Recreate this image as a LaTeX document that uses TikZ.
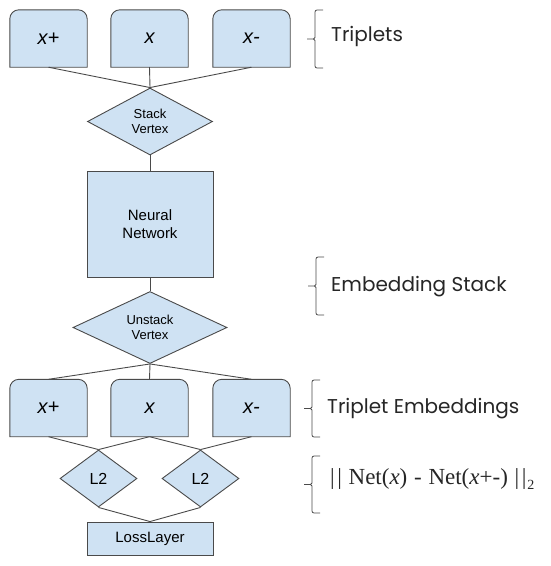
\documentclass[tikz,border=0pt]{standalone}
\usepackage{fontspec}
\setmainfont{Liberation Sans}
\newfontfamily\bracefont{Poppins}
\newfontfamily\formulafont{Liberation Serif}
\usetikzlibrary{shapes.geometric,backgrounds}
\definecolor{boxfill}{HTML}{CFE2F3}
\definecolor{edgecol}{HTML}{4A4A4A}
\newcommand\topbox[1]{\draw[boxline] (#1.south west) -- ([yshift=-9pt]#1.north west) arc[start angle=180,end angle=90,radius=9pt] -- ([xshift=-9pt]#1.north east) arc[start angle=90,end angle=0,radius=9pt] -- (#1.south east) -- cycle;}
% \sidebrace{x of vertical line}{top y}{bottom y}
\newcommand\sidebrace[3]{%
  \draw[bracestyle] ({#1+8},#2) -- ({#1+2},#2) arc[start angle=90,end angle=180,radius=2pt] -- ({#1},{(#2+#3)/2-1.5}) -- ++(-1.5,1.5) -- ({#1-8},{(#2+#3)/2});
  \draw[bracestyle] ({#1+8},#3) -- ({#1+2},#3) arc[start angle=270,end angle=180,radius=2pt] -- ({#1},{(#2+#3)/2+1.5}) -- ++(-1.5,-1.5);}
\tikzset{
  boxline/.style={draw=edgecol, fill=boxfill, line width=0.9pt},
  tripbox/.style={rectangle, inner sep=0pt, minimum width=77pt, minimum height=57pt, font=\fontsize{20}{22}\selectfont\itshape},
  sqbox/.style={rectangle, draw=edgecol, fill=boxfill, line width=0.9pt, inner sep=0pt, align=center},
  vtx/.style={diamond, draw=edgecol, fill=boxfill, line width=0.9pt, inner sep=0pt, align=center, font=\fontsize{13}{15.5}\selectfont},
  conn/.style={draw=edgecol, line width=0.9pt},
  bracestyle/.style={draw=edgecol, line width=0.8pt},
  bracelabel/.style={anchor=west, inner sep=0pt, text=black!85, font=\bracefont\fontsize{20}{22}\selectfont}
}
\begin{document}
\begin{tikzpicture}[x=1pt, y=-1pt]
\useasboundingbox (0,0) rectangle (550,566);
% top triplets
\node[tripbox] (t1) at (48.5,38.5) {x+};
\node[tripbox] (t2) at (149.5,38.5) {x};
\node[tripbox] (t3) at (251.5,38.5) {x-};
\node[vtx, minimum width=125pt, minimum height=67pt] (sv) at (150,121.5) {Stack\\Vertex};
\node[sqbox, minimum width=126pt, minimum height=106pt, font=\fontsize{15}{18}\selectfont] (nn) at (150,224) {Neural\\Network};
\node[vtx, minimum width=154pt, minimum height=69pt] (uv) at (150,327.5) {Unstack\\Vertex};
% bottom triplets
\node[tripbox] (b1) at (48.5,408) {x+};
\node[tripbox] (b2) at (149.5,408) {x};
\node[tripbox] (b3) at (251.5,408) {x-};
\node[vtx, minimum width=77pt, minimum height=57pt, font=\fontsize{16}{18}\selectfont] (l1) at (98.5,478.5) {L2};
\node[vtx, minimum width=77pt, minimum height=57pt, font=\fontsize{16}{18}\selectfont] (l2) at (200.5,478.5) {L2};
\node[sqbox, minimum width=126pt, minimum height=33pt, font=\fontsize{15}{18}\selectfont] (loss) at (150,538.5) {LossLayer};
\begin{scope}[on background layer]
\topbox{t1}\topbox{t2}\topbox{t3}
\topbox{b1}\topbox{b2}\topbox{b3}
\end{scope}
% connectors
\draw[conn] (t1.south) -- (sv.north);
\draw[conn] (t2.south) -- (sv.north);
\draw[conn] (t3.south) -- (sv.north);
\draw[conn] (sv.south) -- (nn.north);
\draw[conn] (nn.south) -- (uv.north);
\draw[conn] (uv.south) -- (b1.north);
\draw[conn] (uv.south) -- (b2.north);
\draw[conn] (uv.south) -- (b3.north);
\draw[conn] (b1.south) -- (l1.north);
\draw[conn] (b2.south) -- (l1.north);
\draw[conn] (b2.south) -- (l2.north);
\draw[conn] (b3.south) -- (l2.north);
\draw[conn] (l1.south) -- (loss.north);
\draw[conn] (l2.south) -- (loss.north);
% braces
\sidebrace{315}{10}{68}
\sidebrace{316}{257}{315}
\sidebrace{312}{380}{437}
\sidebrace{312}{456}{513}
\node[bracelabel] (lt) at (331,36) {Triplets};
\node[bracelabel] (le) at (331,287) {Embedding Stack};
\node[bracelabel] (lte) at (327,409) {Triplet Embeddings};
\node[anchor=west, inner sep=0pt, text=black!85, font=\formulafont\fontsize{23}{25}\selectfont] (lf) at (330,479) {|\kern2.5pt|\kern1pt\ Net(\textit{x})\kern1pt\ -\kern1pt\ Net(\textit{x}+-)\kern1pt\ |\kern2.5pt|\kern1pt\raisebox{-5pt}{\fontsize{14}{15}\selectfont 2}};
\end{tikzpicture}
\end{document}
